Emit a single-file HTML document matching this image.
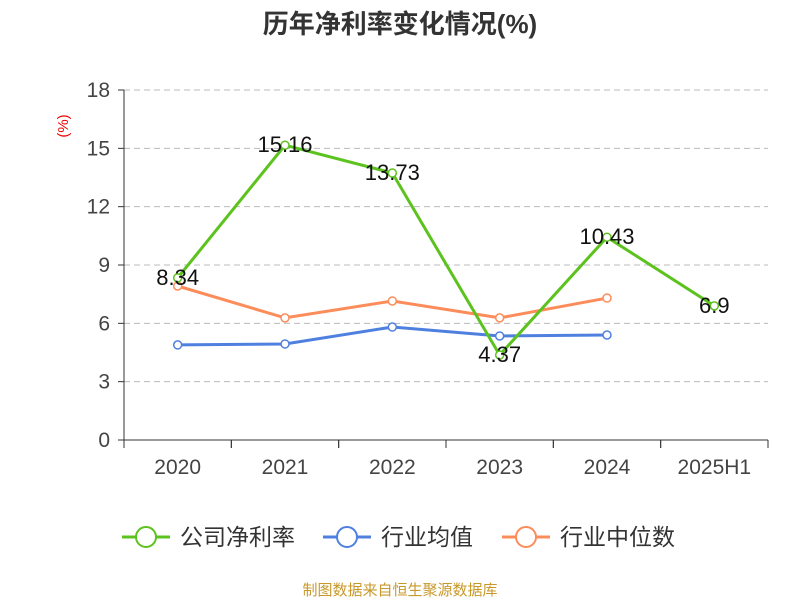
<!DOCTYPE html>
<html><head><meta charset="utf-8"><style>
body{margin:0;background:#fff;font-family:"Liberation Sans","Noto Sans CJK SC",sans-serif}
svg text{font-family:"Liberation Sans","Noto Sans CJK SC",sans-serif}
</style></head><body>
<svg id="c" width="800" height="600" xmlns="http://www.w3.org/2000/svg">
<text x="400" y="33" text-anchor="middle" font-size="26" font-weight="bold" fill="#333">历年净利率变化情况(%)</text>
<text x="68" y="126" text-anchor="middle" font-size="15" fill="#e00" transform="rotate(-90 68 126)">(%)</text>
<text x="400" y="595" text-anchor="middle" font-size="15" fill="#c8992a">制图数据来自恒生聚源数据库</text>
<g id="grid"></g><g id="axes"></g><g id="series"></g><g id="legend"></g>
</svg>
<script>
const categories=["2020","2021","2022","2023","2024","2025H1"];
const yTicks=[0,3,6,9,12,15,18];
const netMargin=[8.34,15.16,13.73,4.37,10.43,6.9];
const netMarginLabels=["8.34","15.16","13.73","4.37","10.43","6.9"];
const industryAvg=[4.89,4.94,5.81,5.35,5.4];
const industryMedian=[7.92,6.28,7.15,6.28,7.3];
const NS="http://www.w3.org/2000/svg";
const X0=124,X1=768,Y0=440,Y1=90;
const bw=(X1-X0)/categories.length;
const xs=i=>X0+bw*(i+0.5);
const ys=v=>Y0-(v/18)*(Y0-Y1);
function mk(t,a,p){const e=document.createElementNS(NS,t);for(const k in a)e.setAttribute(k,a[k]);p.appendChild(e);return e;}
const grid=document.getElementById('grid'),axes=document.getElementById('axes'),ser=document.getElementById('series'),leg=document.getElementById('legend');
yTicks.forEach(t=>{const y=ys(t);
 if(t>0){const l=mk('line',{x1:X0,x2:X1,y1:y,y2:y,stroke:'#bbb','stroke-dasharray':'6,4'},grid);}
 const tk=mk('line',{x1:X0-6,x2:X0,y1:y,y2:y,stroke:'#333'},axes);
 const tx=mk('text',{x:X0-14,y:y+7,'text-anchor':'end','font-size':21,fill:'#444'},axes);tx.textContent=t;
 });
let a=mk('line',{x1:X0,x2:X0,y1:Y1,y2:Y0,stroke:'#333'},axes);
a=mk('line',{x1:X0,x2:X1,y1:Y0,y2:Y0,stroke:'#333'},axes);
categories.forEach((c,i)=>{
 for(const xx of [X0+bw*i,X0+bw*(i+1)]){const t=mk('line',{x1:xx,x2:xx,y1:Y0,y2:Y0+8,stroke:'#333'},axes);}
 const tx=mk('text',{x:xs(i),y:474,'text-anchor':'middle','font-size':21,fill:'#444'},axes);tx.textContent=c;
 });
function line(vals,color,name){
 const g=mk('g',{},ser);
 const p=mk('polyline',{points:vals.map((v,i)=>xs(i)+','+ys(v)).join(' '),fill:'none',stroke:color,'stroke-width':3},g);
 
 vals.forEach((v,i)=>{const c=mk('circle',{cx:xs(i),cy:ys(v),r:4,fill:'#fff',stroke:color,'stroke-width':1.5},g);
  });
 return g;}
line(industryMedian,'#fc8c5a','industry-median');
line(industryAvg,'#4f80e0','industry-average');
const g=line(netMargin,'#5cc21e','net-margin');
netMargin.forEach((v,i)=>{const t=mk('text',{x:xs(i),y:ys(v)+7,'text-anchor':'middle','font-size':22,fill:'#111'},g);
 t.textContent=netMarginLabels[i];});
[["公司净利率",'#5cc21e',122],["行业均值",'#4f80e0',323],["行业中位数",'#fc8c5a',502]].forEach(([n,c,x])=>{
 const e=mk('g',{},leg);
 mk('line',{x1:x,x2:x+48,y1:537,y2:537,stroke:c,'stroke-width':3},e);
 mk('circle',{cx:x+24,cy:537,r:10,fill:'#fff',stroke:c,'stroke-width':2},e);
 const t=mk('text',{x:x+58,y:545,'font-size':23,fill:'#333'},e);t.textContent=n;});
</script>
</body></html>
